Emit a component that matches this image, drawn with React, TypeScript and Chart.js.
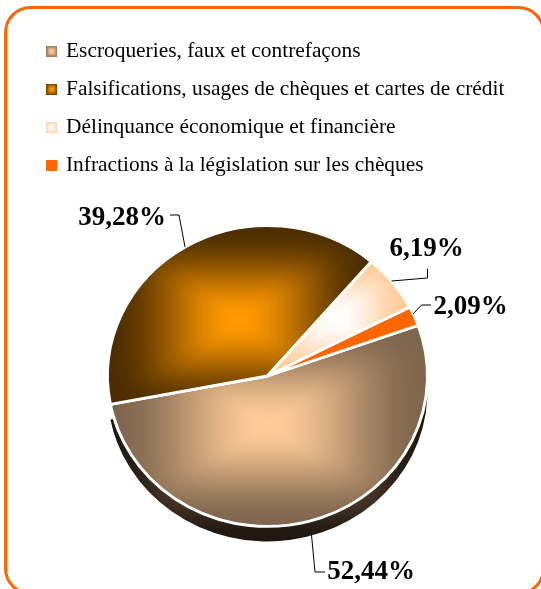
import React, { useEffect, useRef } from "react";
import { Chart, registerables } from "chart.js";

Chart.register(...registerables);

const categories = [
  "Escroqueries, faux et contrefaçons",
  "Falsifications, usages de chèques et cartes de crédit",
  "Délinquance économique et financière",
  "Infractions à la législation sur les chèques",
];
const shares = [52.44, 39.28, 6.19, 2.09];

const W = 541;
const H = 589;
const CX = 267.5;
const CY = 376;
const AREA_HALF = 161.5;
const TILT = 0.94;
const DEPTH = 15;
const SERIF = '"Liberation Serif", serif';

type RGB = [number, number, number];
type Box = [number, number, number, number];

const sliceColors: [RGB, RGB][] = [
  [[255, 204, 153], [127, 102, 77]],
  [[255, 153, 0], [77, 46, 0]],
  [[255, 255, 255], [255, 204, 153]],
  [[255, 102, 0], [255, 102, 0]],
];
const sliceBoxes: Box[] = [
  [111, 325, 426, 525],
  [109, 228, 369, 412],
  [267, 260, 407, 376],
  [267, 305, 417, 376],
];
const sideColors: [RGB, RGB] = [[170, 136, 102], [32, 23, 16]];
const sideBox: Box = [108, 340, 429, 541];

const labelAnchors: [number, number][] = [
  [371, 572],
  [122, 218],
  [426.5, 249],
  [470.5, 307],
];
const leaders: [number, number][][] = [
  [[311.5, 535], [315, 572], [325, 572]],
  [[185, 247], [179, 215], [170, 215]],
  [[391.5, 281], [427.5, 278], [427.5, 268.5]],
  [[413, 314], [421.5, 305], [431, 305]],
];

function gradientCanvas(w: number, h: number, box: Box, cols: [RGB, RGB]) {
  const c = document.createElement("canvas");
  c.width = w;
  c.height = h;
  const g = c.getContext("2d")!;
  const img = g.createImageData(w, h);
  const [x0, y0, x1, y1] = box;
  const mx = (x0 + x1) / 2;
  const my = (y0 + y1) / 2;
  const hw = (x1 - x0) / 2;
  const hh = (y1 - y0) / 2;
  for (let y = 0; y < h; y++) {
    for (let x = 0; x < w; x++) {
      const dx = Math.abs(x + 0.5 - mx) / hw;
      const dy = Math.abs(y + 0.5 - my) / hh;
      const d = Math.min(1, Math.pow(Math.pow(dx, 6) + Math.pow(dy, 6), 1 / 6));
      const t = d * d * (3 - 2 * d);
      const i = (y * w + x) * 4;
      for (let k = 0; k < 3; k++) img.data[i + k] = cols[0][k] + (cols[1][k] - cols[0][k]) * t;
      img.data[i + 3] = 255;
    }
  }
  g.putImageData(img, 0, 0);
  return c;
}

export default function App() {
  const ref = useRef<HTMLCanvasElement>(null);
  useEffect(() => {
    const canvas = ref.current!;
    const ctx = canvas.getContext("2d")!;
    const toScreen = new DOMMatrix().translate(0, CY).scale(1, 1 / TILT).translate(0, -CY);
    const patterns = sliceColors.map((cols, i) => {
      const p = ctx.createPattern(gradientCanvas(W, H, sliceBoxes[i], cols), "no-repeat")!;
      p.setTransform(toScreen);
      return p;
    });
    const sidePattern = ctx.createPattern(gradientCanvas(W, H, sideBox, sideColors), "no-repeat")!;
    const markers = sliceColors.map((cols) => gradientCanvas(11, 11, [-2, -2, 13, 13], cols));

    const piePlugin = {
      id: "piePlugin",
      afterLayout(chart: any) {
        const lg = chart.legend;
        lg.left = 31.4;
        lg.top = 24;
        lg.bottom = 200;
        lg.height = 176;
        chart.chartArea = {
          left: CX - AREA_HALF,
          right: CX + AREA_HALF,
          top: CY - AREA_HALF,
          bottom: CY + AREA_HALF,
          width: AREA_HALF * 2,
          height: AREA_HALF * 2,
        };
      },
      beforeDraw(chart: any) {
        const c = chart.ctx;
        c.save();
        c.fillStyle = "#fff";
        c.fillRect(0, 0, W, H);
        c.strokeStyle = "#ff6600";
        c.lineWidth = 3;
        c.beginPath();
        c.roundRect(5.5, 7.5, 538, 586, 25);
        c.stroke();
        c.restore();
      },
      beforeDatasetsDraw(chart: any) {
        const c = chart.ctx;
        const arc = chart.getDatasetMeta(0).data[0];
        c.save();
        c.translate(CX, CY + DEPTH);
        c.scale(1, TILT);
        c.beginPath();
        c.moveTo(0, 0);
        c.arc(0, 0, arc.outerRadius, arc.startAngle, arc.endAngle);
        c.closePath();
        c.restore();
        c.save();
        c.fillStyle = sidePattern;
        c.fill();
        c.restore();
        c.save();
        c.translate(CX, CY);
        c.scale(1, TILT);
        c.translate(-CX, -CY);
      },
      afterDatasetsDraw(chart: any) {
        const c = chart.ctx;
        c.restore();
        c.save();
        c.strokeStyle = "#000";
        c.lineWidth = 1;
        leaders.forEach((pts) => {
          c.beginPath();
          pts.forEach(([x, y], i) => (i ? c.lineTo(x, y) : c.moveTo(x, y)));
          c.stroke();
        });
        c.fillStyle = "#000";
        c.font = `bold 27px ${SERIF}`;
        c.textAlign = "center";
        c.textBaseline = "middle";
        shares.forEach((v, i) => {
          c.fillText(v.toFixed(2).replace(".", ",") + "%", labelAnchors[i][0], labelAnchors[i][1]);
        });
        c.restore();
      },
    };

    const chart = new Chart(canvas, {
      type: "pie",
      data: {
        labels: categories,
        datasets: [
          {
            data: shares,
            backgroundColor: patterns,
            borderColor: "#ffffff",
            borderWidth: 3,
            clip: false,
          } as any,
        ],
      },
      options: {
        responsive: false,
        animation: false,
        rotation: 70.3,
        events: [],
        plugins: {
          tooltip: { enabled: false },
          legend: {
            position: "top",
            align: "start",
            labels: {
              usePointStyle: true,
              pointStyleWidth: 7.3,
              padding: 16.6,
              color: "#000",
              font: { family: SERIF, size: 21.4 },
              generateLabels: () =>
                categories.map((text, i) => ({
                  text,
                  index: i,
                  datasetIndex: 0,
                  hidden: false,
                  pointStyle: markers[i],
                  fontColor: "#000",
                  lineWidth: 0,
                })),
            },
          },
        },
      } as any,
      plugins: [piePlugin],
    });
    return () => chart.destroy();
  }, []);
  return (
    <canvas
      ref={ref}
      width={W}
      height={H}
      style={{ position: "fixed", left: 0, top: 0, display: "block" }}
    />
  );
}
